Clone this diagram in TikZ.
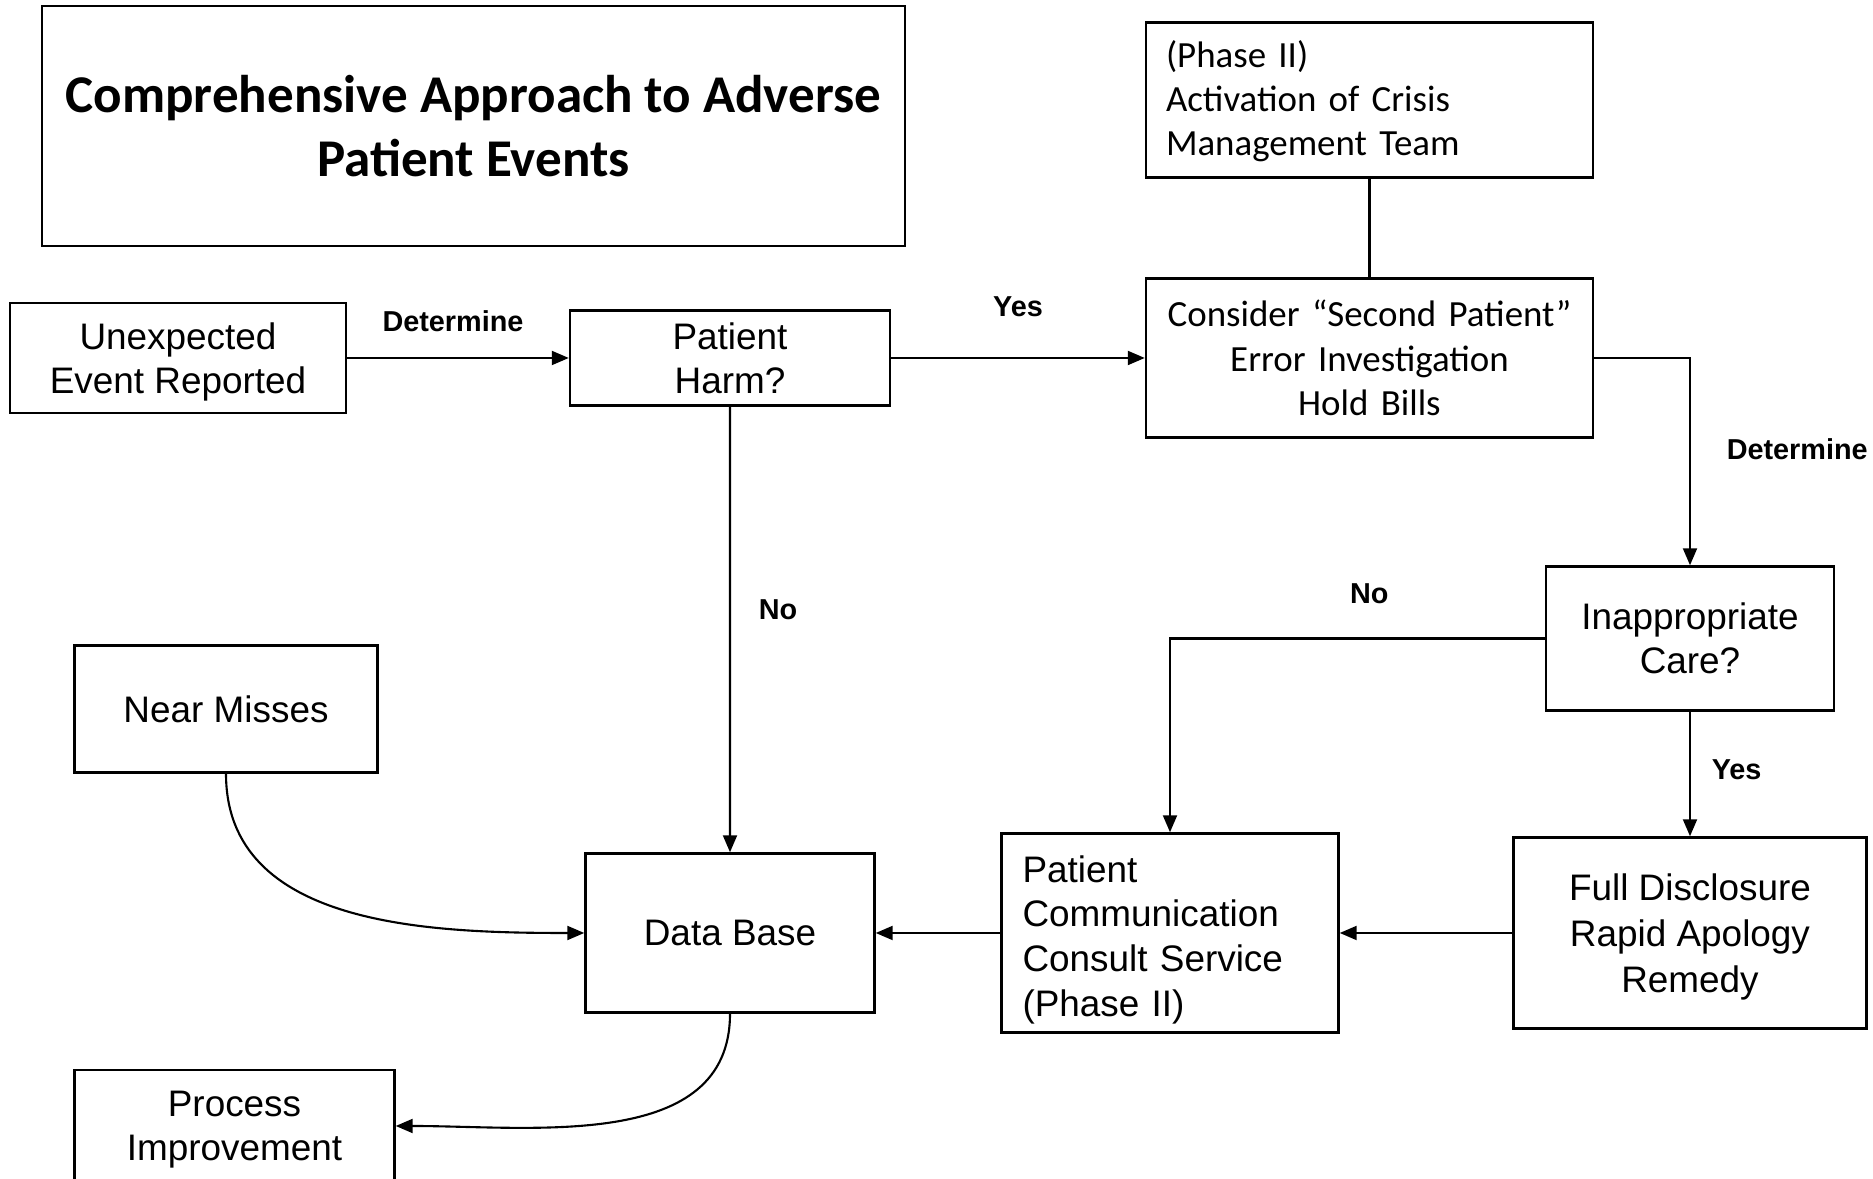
\documentclass[tikz,border=0pt]{standalone}
\usepackage{fontspec}
\setmainfont{Liberation Sans}
\newfontfamily\calibri{Carlito}
\usetikzlibrary{arrows.meta}
\tikzstyle{process} = [rectangle, draw=black, line width=0.7pt, text centered, align=center, text depth=-2pt, font=\fontsize{10.5}{12.6}\selectfont]
\tikzstyle{phase} = [rectangle, draw=black, line width=0.7pt, minimum width=4.47cm, inner xsep=2mm, text width=4.07cm, font=\calibri\fontsize{10.5}{12.7}\selectfont]
\tikzstyle{label} = [font=\bfseries\fontsize{8.2}{10}\selectfont]
\tikzstyle{arrow} = [line width=0.6pt, -{Triangle[length=1.7mm, width=1.4mm]}]

\begin{document}
\begin{tikzpicture}[node distance=2cm]
      \clip (-1.78,3.58) rectangle (16.95,-8.21);
      % Nodes
      \node (event) [process, minimum width=3.36cm, minimum height=1.1cm] {Unexpected\\Event Reported};
      \node (title) [rectangle, draw=black, line width=0.8pt, minimum width=8.63cm, minimum height=2.4cm, align=center, font=\calibri\bfseries\fontsize{15.1}{18}\selectfont, right of=event, node distance=2.955cm, yshift=2.32cm] {Comprehensive Approach to Adverse\\Patient Events};
      \node (harm) [process, minimum width=3.2cm, minimum height=0.95cm, right of=event, node distance=5.52cm] {Patient\\Harm?};
      \node (second) [phase, align=center, minimum height=1.59cm, right of=harm, node distance=6.395cm] {Consider \textquotedblleft Second Patient\textquotedblright\\Error Investigation\\Hold Bills};
      \node (crisis) [phase, align=left, font=\calibri\fontsize{10.5}{12.56}\selectfont, text height=8pt, text depth=26.6pt, minimum height=1.55cm, above of=second, node distance=2.58cm] {(Phase II)\\Activation of Crisis\\Management Team};
      \node (care) [process, minimum width=2.88cm, minimum height=1.44cm, right of=second, node distance=3.205cm, yshift=-2.805cm] {Inappropriate\\Care?};
      \node (disclose) [process, font=\fontsize{10.5}{13}\selectfont, minimum width=3.53cm, minimum height=1.91cm, below of=care, node distance=2.945cm] {Full Disclosure\\Rapid Apology\\Remedy};
      \node (consult) [process, font=\fontsize{10.5}{12.7}\selectfont, align=left, text height=8pt, text depth=36.9pt, minimum width=3.37cm, minimum height=1.99cm, inner xsep=2.1mm, text width=2.95cm, left of=disclose, node distance=5.2cm] {Patient\\Communication\\Consult Service\\(Phase II)};
      \node (database) [process, minimum width=2.89cm, minimum height=1.59cm, left of=consult, node distance=4.4cm] {Data Base};
      \node (near) [process, minimum width=3.03cm, minimum height=1.27cm, left of=database, node distance=5.04cm, yshift=2.24cm] {Near Misses};
      \node (improve) [process, minimum width=3.2cm, minimum height=1.12cm, left of=database, node distance=4.955cm, yshift=-1.93cm] {Process\\Improvement};
      % Arrows
      \draw [arrow] (event) -- node[label, above, yshift=1.3mm, xshift=-0.5mm] {Determine} (harm);
      \draw [arrow] (harm) -- node[label, above, yshift=2.85mm] {Yes} (second);
      \draw [line width=0.6pt] (crisis) -- (second);
      \draw [arrow] (second.east) -| node[label, pos=0.72, right, xshift=2.4mm] {Determine} (care.north);
      \draw [arrow] (harm) -- node[label, pos=0.455, right, xshift=1.6mm] {No} (database);
      \draw [arrow] (care.west) -| node[label, pos=0.234, above, yshift=2.15mm] {No} (consult.north);
      \draw [arrow] (care) -- node[label, pos=0.465, right, xshift=0.9mm] {Yes} (disclose);
      \draw [arrow] (disclose) -- (consult);
      \draw [arrow] (consult) -- (database);
      \draw [arrow] (near.south) to[out=-90, in=180] (database.west);
      \draw [arrow] (database.south) to[out=-90, in=0] (improve.east);
    \end{tikzpicture}
\end{document}
